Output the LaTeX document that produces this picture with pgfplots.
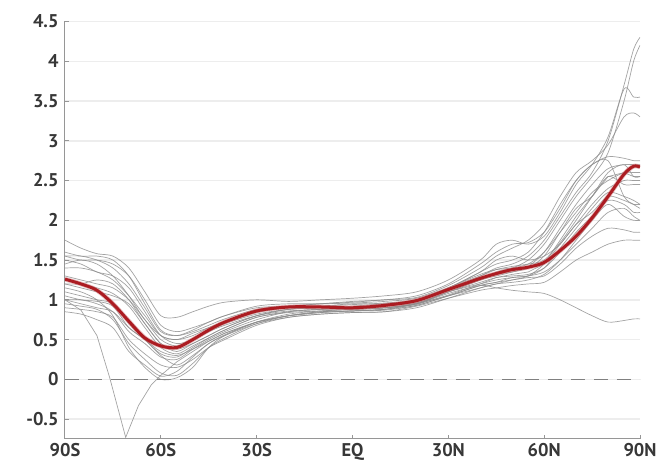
\documentclass[border=0pt]{standalone}
\usepackage{fontspec}
\setmainfont{PT Sans}
\usepackage{pgfplots}
\usepackage{pgfplotstable}
\pgfplotsset{compat=1.18}
\definecolor{labelgray}{RGB}{55,55,55}
\definecolor{axgray}{RGB}{150,150,150}
\definecolor{meanred}{RGB}{172,28,34}
\newcommand{\tickfont}{\fontsize{18.5}{20}\selectfont\bfseries}

\pgfplotstableread{
lat  A    B    C    D    E    F    G    H    I    J    K    M    N    O    P    Q    R    S    T    mean
-90  1.45 1.20 1.55 1.00 1.60 1.30 0.95 1.50 1.10 1.20 1.00 0.90 1.25 1.15 1.75 1.40 1.05 1.55 0.85 1.26
-85  1.50 1.20 1.55 1.00 1.55 1.25 0.92 1.45 1.05 1.15 0.95 0.88 1.20 1.10 1.65 1.40 1.00 1.50 0.82 1.20
-80  1.45 1.25 1.50 0.95 1.55 1.20 0.88 1.35 1.00 1.10 0.90 0.85 1.15 1.00 1.58 1.35 0.98 1.50 0.75 1.12
-75  1.30 1.20 1.40 0.85 1.50 1.15 0.75 1.30 0.95 1.05 0.85 0.78 1.08 0.80 1.55 1.25 0.92 1.45 0.65 0.95
-70  1.05 1.00 1.20 0.60 1.30 1.00 0.45 1.15 0.70 0.95 0.65 0.50 0.92 0.40 1.40 1.05 0.65 1.30 0.35 0.73
-65  0.75 0.70 0.90 0.45 0.95 0.75 0.25 0.85 0.50 0.70 0.50 0.32 0.65 0.15 1.10 0.80 0.50 1.00 0.18 0.52
-60  0.55 0.45 0.60 0.28 0.62 0.50 0.08 0.55 0.32 0.45 0.35 0.18 0.40 0.00 0.80 0.55 0.30 0.68 0.04 0.42
-55  0.50 0.35 0.55 0.25 0.55 0.42 0.05 0.45 0.28 0.38 0.30 0.15 0.32 0.02 0.78 0.50 0.18 0.60 0.10 0.40
-50  0.58 0.45 0.62 0.38 0.60 0.50 0.20 0.50 0.40 0.45 0.38 0.25 0.42 0.15 0.85 0.55 0.30 0.65 0.28 0.50
-45  0.65 0.55 0.72 0.50 0.68 0.60 0.40 0.60 0.52 0.55 0.48 0.40 0.52 0.40 0.92 0.65 0.45 0.72 0.45 0.62
-40  0.72 0.65 0.80 0.60 0.76 0.70 0.52 0.68 0.62 0.65 0.58 0.50 0.62 0.55 0.97 0.72 0.56 0.80 0.55 0.72
-30  0.85 0.80 0.90 0.75 0.88 0.82 0.70 0.80 0.78 0.80 0.72 0.68 0.78 0.72 1.00 0.84 0.72 0.92 0.70 0.86
-20  0.90 0.88 0.92 0.85 0.92 0.88 0.80 0.86 0.84 0.88 0.80 0.78 0.85 0.82 0.98 0.90 0.80 0.95 0.78 0.91
-10  0.92 0.90 0.95 0.88 0.95 0.90 0.85 0.88 0.86 0.90 0.85 0.82 0.88 0.86 1.00 0.92 0.84 0.95 0.82 0.91
0    0.95 0.90 0.97 0.90 0.98 0.90 0.86 0.92 0.88 0.90 0.86 0.84 0.88 0.88 1.02 0.94 0.86 0.96 0.84 0.90
10   0.95 0.92 1.00 0.90 1.00 0.92 0.88 0.95 0.90 0.90 0.88 0.85 0.90 0.90 1.05 0.96 0.87 0.98 0.85 0.93
20   1.00 0.98 1.03 0.95 1.05 0.97 0.95 1.00 0.95 0.96 0.93 0.92 0.95 0.96 1.10 1.00 0.93 1.02 0.90 0.99
30   1.12 1.12 1.18 1.10 1.20 1.15 1.05 1.15 1.10 1.10 1.05 1.02 1.08 1.10 1.25 1.15 1.05 1.15 1.02 1.13
40   1.30 1.25 1.40 1.25 1.45 1.32 1.15 1.35 1.22 1.20 1.18 1.12 1.18 1.25 1.50 1.35 1.18 1.30 1.15 1.27
45   1.40 1.35 1.55 1.32 1.60 1.38 1.20 1.50 1.28 1.25 1.22 1.15 1.15 1.30 1.70 1.45 1.22 1.38 1.20 1.33
50   1.45 1.40 1.65 1.35 1.70 1.40 1.25 1.55 1.30 1.28 1.25 1.18 1.12 1.35 1.75 1.50 1.28 1.42 1.22 1.38
55   1.55 1.50 1.75 1.40 1.72 1.45 1.30 1.50 1.32 1.30 1.28 1.20 1.10 1.42 1.70 1.60 1.30 1.45 1.25 1.41
60   1.75 1.70 1.95 1.55 1.85 1.60 1.45 1.55 1.40 1.35 1.30 1.22 1.08 1.60 1.80 1.85 1.40 1.50 1.32 1.47
65   2.05 2.00 2.30 1.85 2.15 1.85 1.70 1.70 1.60 1.50 1.45 1.35 1.00 1.90 2.10 2.20 1.65 1.72 1.50 1.62
70   2.35 2.30 2.60 2.15 2.50 2.10 1.95 1.95 1.85 1.70 1.65 1.50 0.90 2.20 2.45 2.50 1.90 2.00 1.75 1.80
75   2.60 2.55 2.75 2.30 2.70 2.35 2.20 2.10 2.05 1.90 1.80 1.60 0.80 2.45 2.70 2.70 2.15 2.30 2.00 2.03
80   3.00 2.85 2.95 2.55 2.80 2.50 2.40 2.30 2.25 2.10 1.90 1.70 0.72 2.65 3.05 2.75 2.35 2.60 2.20 2.30
85   3.70 3.50 3.30 2.45 2.78 2.60 2.50 2.25 2.20 2.15 1.88 1.75 0.74 2.70 3.65 2.30 2.30 2.70 2.05 2.58
88   4.15 4.00 3.35 2.45 2.75 2.60 2.50 2.20 2.10 2.05 1.85 1.75 0.76 2.70 3.55 2.20 2.25 2.55 2.00 2.68
90   4.30 4.20 3.30 2.45 2.75 2.60 2.50 2.20 2.10 2.00 1.85 1.75 0.76 2.70 3.55 2.15 2.20 2.55 2.00 2.67
}\data

\begin{document}
\begin{tikzpicture}
\begin{axis}[
  scale only axis, width=575bp, height=417.5bp,
  xmin=-90, xmax=90, ymin=-0.75, ymax=4.5,
  axis x line*=bottom, axis y line*=left,
  axis line style={draw=axgray, line width=1bp},
  xtick={-90,-60,-30,0,30,60,90},
  xticklabels={90S,60S,30S,EQ,30N,60N,90N},
  ytick={-0.5,0,0.5,1,1.5,2,2.5,3,3.5,4,4.5},
  yticklabels={-0.5,0,0.5,1,1.5,2,2.5,3,3.5,4,4.5},
  tick align=inside, major tick length=4bp,
  tick style={draw=axgray, line width=1bp},
  ymajorgrids, grid style={draw=black!7, line width=1.5bp},
  ticklabel style={font=\tickfont, text=labelgray},
  xticklabel style={yshift=-1bp},
  yticklabel style={xshift=-3bp},
  grayline/.style={draw=black!45, line width=0.7bp, opacity=0.8, smooth, no markers},
]
\coordinate (ll) at (rel axis cs:0,0);
\coordinate (ur) at (rel axis cs:1,1);
\addplot[draw=black!50, line width=1.2bp, dash pattern=on 14bp off 9bp, no markers] coordinates {(-90,0) (90,0)};
\pgfplotsinvokeforeach{A,B,C,D,E,F,G,H,I,J,K,M,N,O,P,Q,R,S,T}{
  \addplot[grayline] table[x=lat, y=#1]{\data};
}
\addplot[draw=black!45, line width=0.7bp, opacity=0.8, no markers] coordinates {
(-90,1.0) (-85,0.87) (-80,0.55) (-76,0.02) (-71,-0.73) (-67,-0.33) (-63,-0.07) (-60,0.05)
(-55,0.22) (-50,0.35) (-45,0.48) (-40,0.58) (-30,0.72) (-20,0.8) (-10,0.84) (0,0.86)
(10,0.88) (20,0.94) (30,1.06) (40,1.2) (45,1.28) (50,1.32) (55,1.35) (60,1.45) (65,1.75)
(70,2.05) (75,2.3) (80,2.55) (85,2.6) (88,2.55) (90,2.55)};
\addplot[draw=meanred!60, line width=4.6bp, opacity=0.5, smooth, no markers] table[x=lat, y=mean]{\data};
\addplot[draw=meanred, line width=3bp, smooth, no markers] table[x=lat, y=mean]{\data};
\end{axis}
\pgfresetboundingbox
\useasboundingbox ([xshift=-65bp,yshift=-33bp]ll) rectangle ([xshift=22bp,yshift=21.5bp]ur);
\end{tikzpicture}
\end{document}
